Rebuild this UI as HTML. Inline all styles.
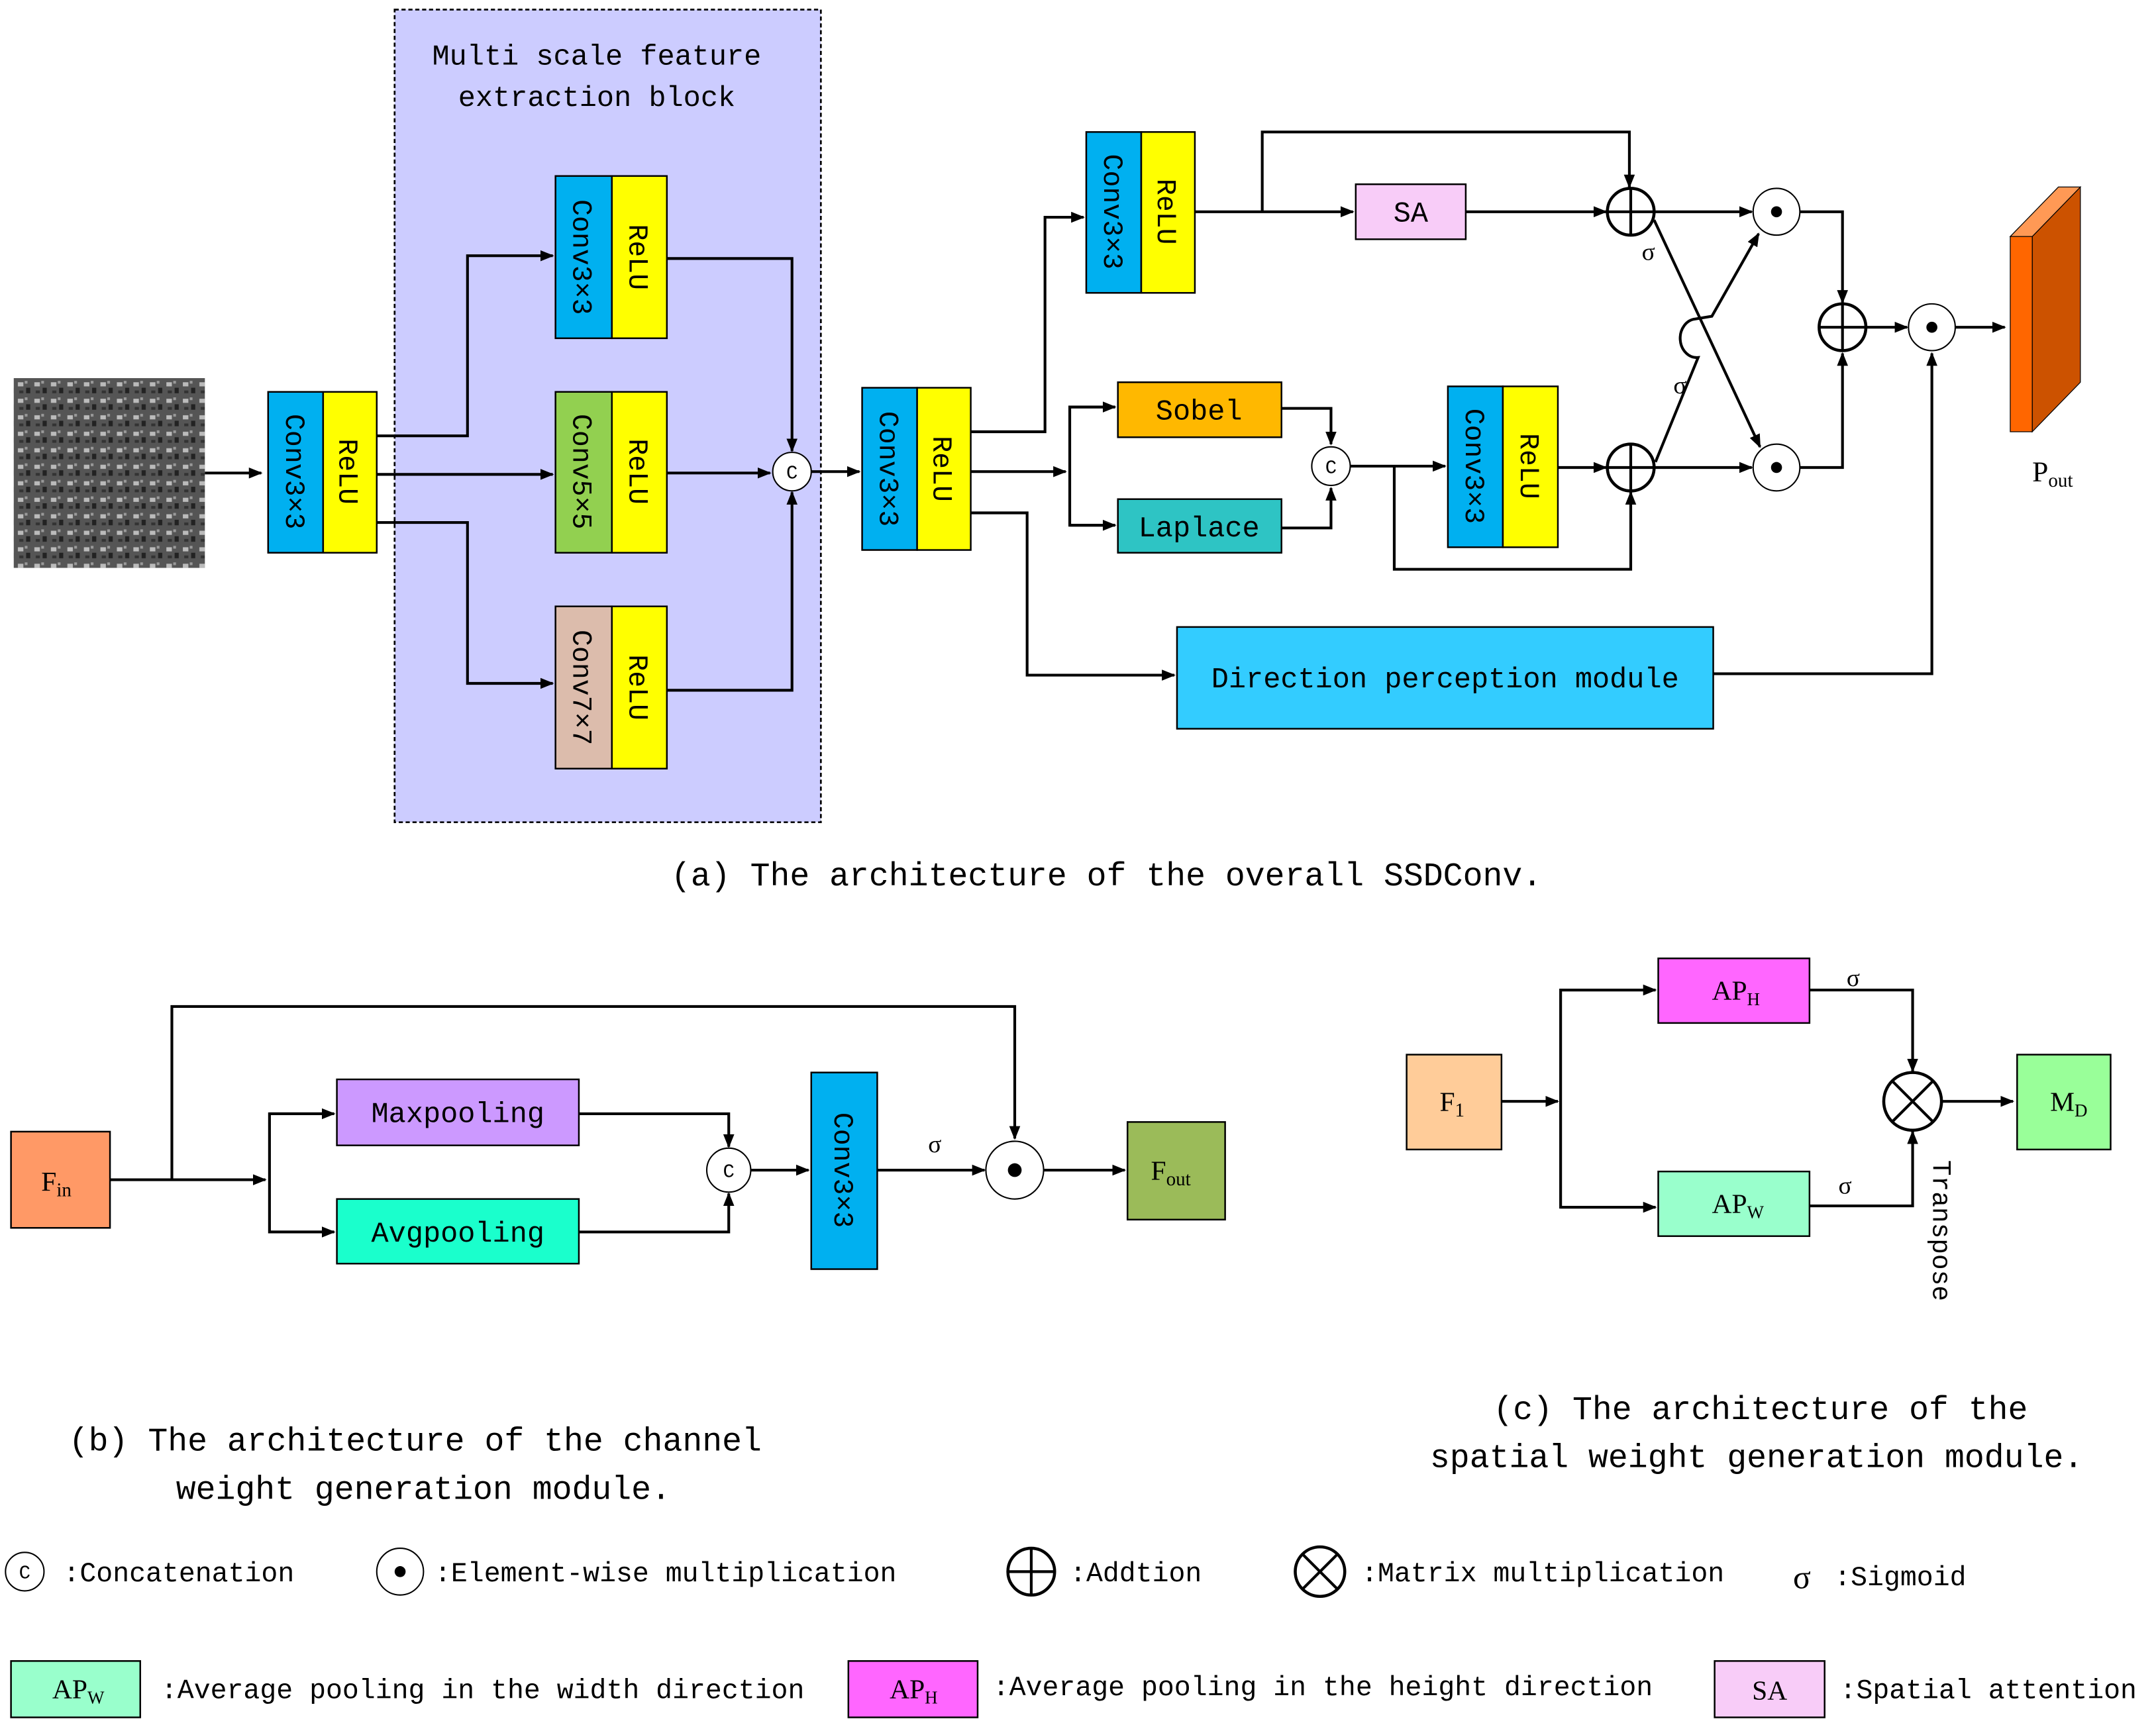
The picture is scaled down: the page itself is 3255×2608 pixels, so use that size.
<!DOCTYPE html>
<html><head><meta charset="utf-8"><style>
html,body{margin:0;padding:0;background:#fff}
svg{display:block}
text{font-family:"Liberation Mono","Noto Sans CJK SC",monospace;fill:#000}
</style></head><body>
<svg width="3255" height="2608" viewBox="0 0 1568 1256" preserveAspectRatio="none" xmlns="http://www.w3.org/2000/svg">
<defs>
<marker id="a" markerWidth="10" markerHeight="8" refX="9" refY="4" orient="auto" markerUnits="userSpaceOnUse"><path d="M0,0 L10,4 L0,8 z" fill="#000"/></marker>
<pattern id="img" width="12" height="12" patternUnits="userSpaceOnUse">
<rect width="12" height="12" fill="#555"/><rect x="1" y="2" width="4" height="3" fill="#bbb"/><rect x="7" y="6" width="3" height="4" fill="#222"/><rect x="6" y="1" width="2" height="2" fill="#999"/><rect x="2" y="8" width="3" height="2" fill="#333"/>
</pattern>
</defs>
<g stroke="#000" stroke-width="2" fill="none">
<rect x="287" y="7" width="310" height="591" fill="#ccccff" stroke-dasharray="3,2" stroke-width="1.3"/>
</g>
<text x="434" y="47" font-size="21" text-anchor="middle">Multi scale feature</text>
<text x="434" y="77" font-size="21" text-anchor="middle">extraction block</text>
<rect x="10" y="275" width="139" height="138" fill="url(#img)"/>
<g stroke="#000" stroke-width="1.2">
<rect x="195" y="285" width="40" height="117" fill="#00b0f0"/><rect x="235" y="285" width="39" height="117" fill="#ffff00"/>
<rect x="404" y="128" width="41" height="118" fill="#00b0f0"/><rect x="445" y="128" width="40" height="118" fill="#ffff00"/>
<rect x="404" y="285" width="41" height="117" fill="#92d050"/><rect x="445" y="285" width="40" height="117" fill="#ffff00"/>
<rect x="404" y="441" width="41" height="118" fill="#dcbcac"/><rect x="445" y="441" width="40" height="118" fill="#ffff00"/>
<rect x="627" y="282" width="40" height="118" fill="#00b0f0"/><rect x="667" y="282" width="39" height="118" fill="#ffff00"/>
<rect x="790" y="96" width="40" height="117" fill="#00b0f0"/><rect x="830" y="96" width="39" height="117" fill="#ffff00"/>
<rect x="1053" y="281" width="40" height="117" fill="#00b0f0"/><rect x="1093" y="281" width="40" height="117" fill="#ffff00"/>
<rect x="986" y="134" width="80" height="40" fill="#f8ccf8"/>
<rect x="813" y="278" width="119" height="40" fill="#ffb800"/>
<rect x="813" y="363" width="119" height="39" fill="#2ec4c4"/>
<rect x="856" y="456" width="390" height="74" fill="#33ccff"/>
<rect x="8" y="823" width="72" height="70" fill="#ff9966"/>
<rect x="245" y="785" width="176" height="48" fill="#cc99ff"/>
<rect x="245" y="872" width="176" height="47" fill="#1affcc"/>
<rect x="590" y="780" width="48" height="143" fill="#00b0f0"/>
<rect x="820" y="816" width="71" height="71" fill="#9bbb59"/>
<rect x="1023" y="767" width="69" height="69" fill="#ffcc99"/>
<rect x="1206" y="697" width="110" height="47" fill="#ff66ff"/>
<rect x="1206" y="852" width="110" height="47" fill="#99ffcc"/>
<rect x="1467" y="767" width="68" height="69" fill="#99ff99"/>
<rect x="8" y="1208" width="94" height="41" fill="#99ffcc"/>
<rect x="617" y="1208" width="94" height="41" fill="#ff66ff"/>
<rect x="1247" y="1208" width="80" height="41" fill="#f8ccf8"/>
</g>
<polygon points="1478,172 1513,136 1513,278 1478,314" fill="#cc5200" stroke="#000" stroke-width="0.6"/>
<polygon points="1462,172 1478,172 1513,136 1497,136" fill="#ff9955" stroke="#000" stroke-width="0.6"/>
<rect x="1462" y="172" width="16" height="142" fill="#ff6600" stroke="#000" stroke-width="0.6"/>

<g font-size="20">
<text transform="translate(215,343) rotate(90)" text-anchor="middle" dy="7">Conv3×3</text>
<text transform="translate(254,343) rotate(90)" text-anchor="middle" dy="7">ReLU</text>
<text transform="translate(424,187) rotate(90)" text-anchor="middle" dy="7">Conv3×3</text>
<text transform="translate(465,187) rotate(90)" text-anchor="middle" dy="7">ReLU</text>
<text transform="translate(424,343) rotate(90)" text-anchor="middle" dy="7">Conv5×5</text>
<text transform="translate(465,343) rotate(90)" text-anchor="middle" dy="7">ReLU</text>
<text transform="translate(424,500) rotate(90)" text-anchor="middle" dy="7">Conv7×7</text>
<text transform="translate(465,500) rotate(90)" text-anchor="middle" dy="7">ReLU</text>
<text transform="translate(647,341) rotate(90)" text-anchor="middle" dy="7">Conv3×3</text>
<text transform="translate(686,341) rotate(90)" text-anchor="middle" dy="7">ReLU</text>
<text transform="translate(810,154) rotate(90)" text-anchor="middle" dy="7">Conv3×3</text>
<text transform="translate(849,154) rotate(90)" text-anchor="middle" dy="7">ReLU</text>
<text transform="translate(1073,339) rotate(90)" text-anchor="middle" dy="7">Conv3×3</text>
<text transform="translate(1113,339) rotate(90)" text-anchor="middle" dy="7">ReLU</text>
<text transform="translate(614,851) rotate(90)" text-anchor="middle" dy="7">Conv3×3</text>
<text transform="translate(1412,895) rotate(90)" text-anchor="middle" dy="6" font-size="19">Transpose</text>
</g>
<g font-size="21" text-anchor="middle">
<text x="1026" y="161">SA</text>
<text x="872" y="305">Sobel</text>
<text x="872" y="390">Laplace</text>
<text x="1051" y="500">Direction perception module</text>
<text x="333" y="816">Maxpooling</text>
<text x="333" y="903">Avgpooling</text>
</g>
<g>
<text x="1478" y="350" font-size="21" style="font-family:'Liberation Serif',serif">P<tspan font-size="14" dy="4">out</tspan></text>
<text x="30" y="866" font-size="20" style="font-family:'Liberation Serif',serif">F<tspan font-size="14" dy="4">in</tspan></text>
<text x="837" y="858" font-size="20" style="font-family:'Liberation Serif',serif">F<tspan font-size="14" dy="4">out</tspan></text>
<text x="1047" y="808" font-size="20" style="font-family:'Liberation Serif',serif">F<tspan font-size="14" dy="4">1</tspan></text>
<text x="1245" y="727" font-size="20" style="font-family:'Liberation Serif',serif">AP<tspan font-size="13" dy="4">H</tspan></text>
<text x="1245" y="882" font-size="20" style="font-family:'Liberation Serif',serif">AP<tspan font-size="13" dy="4">W</tspan></text>
<text x="1491" y="808" font-size="20" style="font-family:'Liberation Serif',serif">M<tspan font-size="13" dy="4">D</tspan></text>
<text x="38" y="1235" font-size="20" style="font-family:'Liberation Serif',serif">AP<tspan font-size="13" dy="4">W</tspan></text>
<text x="647" y="1235" font-size="20" style="font-family:'Liberation Serif',serif">AP<tspan font-size="13" dy="4">H</tspan></text>
<text x="1287" y="1236" font-size="20" text-anchor="middle" style="font-family:'Liberation Serif',serif">SA</text>
<g font-size="18">
<text x="1194" y="189" style="font-family:'Liberation Serif',serif">σ</text>
<text x="1217" y="286" style="font-family:'Liberation Serif',serif">σ</text>
<text x="675" y="838" style="font-family:'Liberation Serif',serif">σ</text>
<text x="1343" y="717" style="font-family:'Liberation Serif',serif">σ</text>
<text x="1337" y="868" style="font-family:'Liberation Serif',serif">σ</text>
<text x="1304" y="1155" font-size="24" style="font-family:'Liberation Serif',serif">σ</text>
</g>
</g>
<g stroke="#000" stroke-width="2" fill="none">
<path d="M149,344 H190" marker-end="url(#a)"/>
<path d="M274,317 H340 V186 H402" marker-end="url(#a)"/>
<path d="M274,345 H402" marker-end="url(#a)"/>
<path d="M274,380 H340 V497 H402" marker-end="url(#a)"/>
<path d="M485,188 H576 V328" marker-end="url(#a)"/>
<path d="M485,344 H560" marker-end="url(#a)"/>
<path d="M485,502 H576 V358" marker-end="url(#a)"/>
<path d="M590,343 H625" marker-end="url(#a)"/>
<path d="M706,314 H760 V158 H788" marker-end="url(#a)"/>
<path d="M706,343 H775" marker-end="url(#a)"/>
<path d="M811,296 H778 V382 H811" />
<path d="M778,296 H811" marker-end="url(#a)"/>
<path d="M778,382 H811" marker-end="url(#a)"/>
<path d="M706,373 H747 V491 H854" marker-end="url(#a)"/>
<path d="M869,154 H984" marker-end="url(#a)"/>
<path d="M918,154 V96 H1185 V136" marker-end="url(#a)"/>
<path d="M1066,154 H1168" marker-end="url(#a)"/>
<path d="M1203,154 H1274" marker-end="url(#a)"/>
<path d="M932,297 H968 V323" marker-end="url(#a)"/>
<path d="M932,384 H968 V355" marker-end="url(#a)"/>
<path d="M982,339 H1051" marker-end="url(#a)"/>
<path d="M1014,339 V414 H1186 V358" marker-end="url(#a)"/>
<path d="M1133,340 H1168" marker-end="url(#a)"/>
<path d="M1203,340 H1274" marker-end="url(#a)"/>
<path d="M1203,160 L1280,325" marker-end="url(#a)"/>
<path d="M1204,336 L1235,260 A12,14 0 0 1 1233,232 L1245,230 L1279,170" marker-end="url(#a)"/>
<path d="M1309,154 H1340 V220" marker-end="url(#a)"/>
<path d="M1309,340 H1340 V257" marker-end="url(#a)"/>
<path d="M1357,238 H1387" marker-end="url(#a)"/>
<path d="M1422,238 H1458" marker-end="url(#a)"/>
<path d="M1246,490 H1405 V257" marker-end="url(#a)"/>
<path d="M80,858 H193" marker-end="url(#a)"/>
<path d="M125,858 V732 H738 V828" marker-end="url(#a)"/>
<path d="M243,810 H196 V896 H243"/>
<path d="M196,810 H243" marker-end="url(#a)"/>
<path d="M196,896 H243" marker-end="url(#a)"/>
<path d="M421,810 H530 V834" marker-end="url(#a)"/>
<path d="M421,896 H530 V868" marker-end="url(#a)"/>
<path d="M546,851 H588" marker-end="url(#a)"/>
<path d="M638,851 H716" marker-end="url(#a)"/>
<path d="M759,851 H818" marker-end="url(#a)"/>
<path d="M1092,801 H1133" marker-end="url(#a)"/>
<path d="M1204,720 H1135 V878 H1204"/>
<path d="M1135,720 H1204" marker-end="url(#a)"/>
<path d="M1135,878 H1204" marker-end="url(#a)"/>
<path d="M1316,720 H1391 V779" marker-end="url(#a)"/>
<path d="M1316,877 H1391 V823" marker-end="url(#a)"/>
<path d="M1412,801 H1464" marker-end="url(#a)"/>
</g>
<g fill="#fff" stroke="#000">
<circle cx="576" cy="343" r="14" stroke-width="1"/>
<circle cx="968" cy="339" r="14" stroke-width="1"/>
<circle cx="530" cy="851" r="16" stroke-width="1"/>
<circle cx="18" cy="1143" r="14" stroke-width="1"/>
<circle cx="1292" cy="154" r="17" stroke-width="1"/>
<circle cx="1292" cy="340" r="17" stroke-width="1"/>
<circle cx="1405" cy="238" r="17" stroke-width="1"/>
<circle cx="738" cy="851" r="21" stroke-width="1"/>
<circle cx="291" cy="1143" r="17" stroke-width="1"/>
<circle cx="1186" cy="154" r="17" stroke-width="2.2"/>
<circle cx="1186" cy="340" r="17" stroke-width="2.2"/>
<circle cx="1340" cy="238" r="17" stroke-width="2.2"/>
<circle cx="750" cy="1143" r="17" stroke-width="2.2"/>
<circle cx="1391" cy="801" r="21" stroke-width="2.2"/>
<circle cx="960" cy="1143" r="18" stroke-width="2.2"/>
</g>
<g stroke="#000" stroke-width="2">
<path d="M1169,154 H1203 M1186,137 V171"/>
<path d="M1169,340 H1203 M1186,323 V357"/>
<path d="M1323,238 H1357 M1340,221 V255"/>
<path d="M733,1143 H767 M750,1126 V1160"/>
<path d="M1376,786 L1406,816 M1406,786 L1376,816"/>
<path d="M947,1130 L973,1156 M973,1130 L947,1156"/>
</g>
<g fill="#000">
<circle cx="1292" cy="154" r="4"/><circle cx="1292" cy="340" r="4"/><circle cx="1405" cy="238" r="4"/>
<circle cx="738" cy="851" r="5"/><circle cx="291" cy="1143" r="4"/>
</g>
<g font-size="14" text-anchor="middle">
<text x="576" y="348">C</text><text x="968" y="344">C</text><text x="530" y="856">C</text><text x="18" y="1148">C</text>
</g>
<g font-size="24">
<text x="488" y="644">(a) The architecture of the overall SSDConv.</text>
<text x="50" y="1055">(b)  The architecture of the channel</text>
<text x="128" y="1090">weight generation module.</text>
<text x="1086" y="1032">(c) The architecture of the</text>
<text x="1040" y="1067">spatial weight generation module.</text>
</g>
<g font-size="20">
<text x="46" y="1150">:Concatenation</text>
<text x="316" y="1150">:Element-wise multiplication</text>
<text x="778" y="1150">:Addtion</text>
<text x="990" y="1150">:Matrix multiplication</text>
<text x="1334" y="1153">:Sigmoid</text>
<text x="117" y="1235">:Average pooling in the width direction</text>
<text x="722" y="1233">:Average pooling in the height direction</text>
<text x="1338" y="1235">:Spatial attention</text>
</g>
</svg>
</body></html>
